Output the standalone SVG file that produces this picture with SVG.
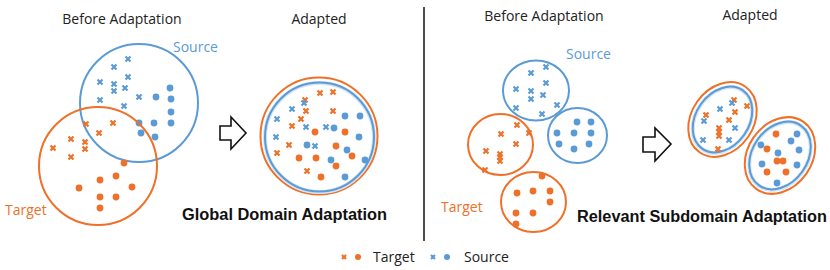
<svg xmlns="http://www.w3.org/2000/svg" xmlns:xlink="http://www.w3.org/1999/xlink" width="830" height="270" viewBox="0 0 830 270">
<style>
text{font-family:"Open Sans","Noto Sans","DejaVu Sans",sans-serif;}
.lbl{font-size:14px;fill:#222;}
.title{font-family:"Liberation Sans",Arial,sans-serif;font-weight:bold;font-size:16px;fill:#111;}
.tb{fill:#5B9BD5;font-size:14px;}
.to{fill:#EF7028;font-size:14px;}
.cb{fill:none;stroke:#5B9BD5;stroke-width:2;}
.co{fill:none;stroke:#EF7028;stroke-width:2;}
.glow{fill:none;stroke:#D3E4F4;stroke-width:4;}
.xb{stroke:#5B9BD5;stroke-width:2.2;}
.xo{stroke:#EF7028;stroke-width:2.2;}
.db{fill:#5B9BD5;}
.do{fill:#EF7028;}
.arrow{fill:#fff;stroke:#111;stroke-width:1.6;stroke-linejoin:miter;}
</style>
<defs>
<path id="x" d="M-2.5,-2.5L2.5,2.5M2.5,-2.5L-2.5,2.5"/>
<path id="xs" d="M-2,-2L2,2M2,-2L-2,2"/>
</defs>
<rect width="830" height="270" fill="#fff"/>

<!-- Left panel: before -->
<text class="lbl" x="122" y="24" text-anchor="middle">Before Adaptation</text>
<g id="left-source">
<circle class="cb" cx="139" cy="103" r="59"/>
<text class="tb" x="173" y="52">Source</text>
<use href="#x" class="xb" x="128" y="59"/><use href="#x" class="xb" x="114" y="67"/><use href="#x" class="xb" x="128" y="77"/>
<use href="#x" class="xb" x="100" y="82"/><use href="#x" class="xb" x="114" y="84"/><use href="#x" class="xb" x="114" y="91"/>
<use href="#x" class="xb" x="125" y="88"/><use href="#x" class="xb" x="139" y="97"/><use href="#x" class="xb" x="100" y="100"/>
<use href="#x" class="xb" x="124" y="106"/>
<circle class="db" cx="170" cy="88" r="3.4"/><circle class="db" cx="156" cy="97" r="3.4"/><circle class="db" cx="171" cy="99" r="3.4"/>
<circle class="db" cx="171" cy="112" r="3.4"/><circle class="db" cx="139" cy="123" r="3.4"/><circle class="db" cx="154" cy="123" r="3.4"/>
<circle class="db" cx="171" cy="123" r="3.4"/><circle class="db" cx="141" cy="133" r="3.4"/><circle class="db" cx="155" cy="137" r="3.4"/>
</g>
<g id="left-target">
<circle class="co" cx="98" cy="166" r="59"/>
<text class="to" x="5" y="215">Target</text>
<use href="#x" class="xo" x="86" y="124"/><use href="#x" class="xo" x="113" y="123"/><use href="#x" class="xo" x="99" y="133"/>
<use href="#x" class="xo" x="71" y="139"/><use href="#x" class="xo" x="85" y="142"/><use href="#x" class="xo" x="85" y="149"/>
<use href="#x" class="xo" x="53" y="148"/><use href="#x" class="xo" x="71" y="157"/>
<circle class="do" cx="124" cy="163" r="3.4"/><circle class="do" cx="100" cy="180" r="3.4"/><circle class="do" cx="116" cy="176" r="3.4"/>
<circle class="do" cx="79" cy="188" r="3.4"/><circle class="do" cx="132" cy="187" r="3.4"/><circle class="do" cx="100" cy="197" r="3.4"/>
<circle class="do" cx="116" cy="197" r="3.4"/><circle class="do" cx="100" cy="208" r="3.4"/>
</g>

<!-- Left panel: adapted -->
<text class="lbl" x="319" y="24" text-anchor="middle">Adapted</text>
<g id="left-adapted">
<circle class="co" cx="319" cy="136" r="58.5"/>
<circle class="glow" cx="319.5" cy="137.5" r="54.5"/>
<circle class="cb" cx="319.5" cy="137" r="54.5"/>
<use href="#x" class="xo" x="320" y="93"/><use href="#x" class="xo" x="333" y="92"/><use href="#x" class="xo" x="305" y="100"/>
<use href="#x" class="xo" x="306" y="111"/><use href="#x" class="xo" x="333" y="111"/><use href="#x" class="xo" x="301" y="119"/>
<use href="#x" class="xo" x="292" y="126"/><use href="#x" class="xo" x="289" y="145"/><use href="#x" class="xo" x="277" y="153"/>
<use href="#x" class="xo" x="307" y="171"/>
<use href="#x" class="xb" x="304" y="103"/><use href="#x" class="xb" x="292" y="109"/><use href="#x" class="xb" x="277" y="119"/>
<use href="#x" class="xb" x="306" y="127"/><use href="#x" class="xb" x="326" y="127"/><use href="#x" class="xb" x="276" y="137"/>
<use href="#x" class="xb" x="315" y="146"/>
<circle class="do" cx="315" cy="132" r="3.4"/><circle class="do" cx="345" cy="132" r="3.4"/><circle class="do" cx="336" cy="146" r="3.4"/>
<circle class="do" cx="316" cy="158" r="3.4"/><circle class="do" cx="299" cy="158" r="3.4"/><circle class="do" cx="352" cy="156" r="3.4"/>
<circle class="do" cx="336" cy="166" r="3.4"/><circle class="do" cx="321" cy="177" r="3.4"/>
<circle class="db" cx="345" cy="116" r="3.4"/><circle class="db" cx="360" cy="116" r="3.4"/><circle class="db" cx="334" cy="128" r="3.4"/>
<circle class="db" cx="359" cy="137" r="3.4"/><circle class="db" cx="307" cy="145" r="3.4"/><circle class="db" cx="347" cy="150" r="3.4"/>
<circle class="db" cx="331" cy="160" r="3.4"/><circle class="db" cx="365" cy="160" r="3.4"/><circle class="db" cx="345" cy="177" r="3.4"/>
</g>
<text class="title" x="182" y="220" textLength="205" lengthAdjust="spacingAndGlyphs">Global Domain Adaptation</text>

<!-- Divider -->
<line x1="424" y1="7" x2="424" y2="241" stroke="#111" stroke-width="1.5"/>

<!-- Right panel: before -->
<text class="lbl" x="544" y="21" text-anchor="middle">Before Adaptation</text>
<g id="right-source-x">
<ellipse class="cb" cx="536" cy="90.5" rx="33" ry="30"/>
<text class="tb" x="566" y="59">Source</text>
<use href="#x" class="xb" x="546" y="67"/><use href="#x" class="xb" x="531" y="73"/><use href="#x" class="xb" x="546" y="83"/>
<use href="#x" class="xb" x="516" y="89"/><use href="#x" class="xb" x="531" y="91"/><use href="#x" class="xb" x="531" y="99"/>
<use href="#x" class="xb" x="543" y="95"/><use href="#x" class="xb" x="516" y="108"/><use href="#x" class="xb" x="557" y="105"/>
<use href="#x" class="xb" x="542" y="114"/>
</g>
<g id="right-source-dot">
<ellipse class="cb" cx="577.5" cy="135.5" rx="29.5" ry="27.5"/>
<circle class="db" cx="577" cy="122" r="3.4"/><circle class="db" cx="591" cy="122" r="3.4"/><circle class="db" cx="557" cy="133" r="3.4"/>
<circle class="db" cx="574" cy="133" r="3.4"/><circle class="db" cx="591" cy="133" r="3.4"/><circle class="db" cx="559" cy="144" r="3.4"/>
<circle class="db" cx="589" cy="144" r="3.4"/><circle class="db" cx="574" cy="149" r="3.4"/>
</g>
<g id="right-target-x">
<ellipse class="co" cx="500.5" cy="144.5" rx="32.5" ry="30.5"/>
<use href="#x" class="xo" x="517" y="125"/><use href="#x" class="xo" x="501" y="134"/><use href="#x" class="xo" x="529" y="133"/>
<use href="#x" class="xo" x="516" y="144"/><use href="#x" class="xo" x="486" y="151"/><use href="#x" class="xo" x="500" y="154"/>
<use href="#x" class="xo" x="500" y="157"/><use href="#x" class="xo" x="500" y="161"/><use href="#x" class="xo" x="485" y="170"/>
</g>
<g id="right-target-dot">
<ellipse class="co" cx="533.5" cy="202" rx="32.5" ry="30"/>
<text class="to" x="441" y="212">Target</text>
<circle class="do" cx="542" cy="176" r="3.4"/><circle class="do" cx="517" cy="193" r="3.4"/><circle class="do" cx="533" cy="191" r="3.4"/>
<circle class="do" cx="550" cy="191" r="3.4"/><circle class="do" cx="550" cy="202" r="3.4"/><circle class="do" cx="516" cy="213" r="3.4"/>
<circle class="do" cx="533" cy="213" r="3.4"/><circle class="do" cx="516" cy="224" r="3.4"/>
</g>

<!-- Right panel: adapted -->
<text class="lbl" x="750" y="20" text-anchor="middle">Adapted</text>
<g id="right-adapted-x">
<ellipse class="co" cx="722.5" cy="119.5" rx="40" ry="31" transform="rotate(-55 722.5 119.5)"/>
<ellipse class="glow" cx="722.5" cy="120" rx="35.5" ry="26.5" transform="rotate(-55 722.5 120)"/>
<ellipse class="cb" cx="722.5" cy="119.5" rx="35.5" ry="26.5" transform="rotate(-55 722.5 119.5)"/>
<use href="#x" class="xo" x="734" y="100"/><use href="#x" class="xo" x="747" y="106"/><use href="#x" class="xo" x="735" y="112"/>
<use href="#x" class="xo" x="706" y="115"/><use href="#x" class="xo" x="729" y="120"/><use href="#x" class="xo" x="719" y="128"/>
<use href="#x" class="xo" x="719" y="132"/><use href="#x" class="xo" x="719" y="136"/><use href="#x" class="xo" x="718" y="149"/>
<use href="#x" class="xb" x="732" y="103"/><use href="#x" class="xb" x="720" y="109"/><use href="#x" class="xb" x="704" y="121"/>
<use href="#x" class="xb" x="735" y="128"/><use href="#x" class="xb" x="703" y="140"/><use href="#x" class="xb" x="729" y="140"/>
</g>
<g id="right-adapted-dot">
<ellipse class="co" cx="780" cy="155.5" rx="41" ry="32" transform="rotate(-55 780 155.5)"/>
<ellipse class="glow" cx="780" cy="156" rx="36.5" ry="27.5" transform="rotate(-55 780 156)"/>
<ellipse class="cb" cx="780" cy="155.5" rx="36.5" ry="27.5" transform="rotate(-55 780 155.5)"/>
<circle class="do" cx="776" cy="134" r="3.4"/><circle class="do" cx="767" cy="149" r="3.4"/><circle class="do" cx="777" cy="161" r="3.4"/>
<circle class="do" cx="783" cy="161" r="3.4"/><circle class="do" cx="767" cy="172" r="3.4"/><circle class="do" cx="786" cy="172" r="3.4"/>
<circle class="db" cx="797" cy="134" r="3.4"/><circle class="db" cx="791" cy="141" r="3.4"/><circle class="db" cx="761" cy="145" r="3.4"/>
<circle class="db" cx="799" cy="150" r="3.4"/><circle class="db" cx="778" cy="153" r="3.4"/><circle class="db" cx="762" cy="164" r="3.4"/>
<circle class="db" cx="797" cy="165" r="3.4"/><circle class="db" cx="777" cy="183" r="3.4"/>
</g>
<text class="title" x="577" y="222" textLength="250" lengthAdjust="spacingAndGlyphs">Relevant Subdomain Adaptation</text>

<!-- Connectors (block arrows) -->
<g id="connectors">
<path class="arrow" d="M220,126 H231 V117 L246,133 L231,149 V140 H220 Z"/>
<path class="arrow" d="M643,137 H655 V128 L671,144 L655,161 V152 H643 Z"/>
</g>

<!-- Legend -->
<g id="legend">
<use href="#xs" class="xo" x="344" y="257"/>
<circle class="do" cx="358" cy="257" r="3"/>
<text class="lbl" x="373" y="262">Target</text>
<use href="#xs" class="xb" x="433" y="257"/>
<circle class="db" cx="447" cy="257" r="3"/>
<text class="lbl" x="464" y="262">Source</text>
</g>
</svg>
